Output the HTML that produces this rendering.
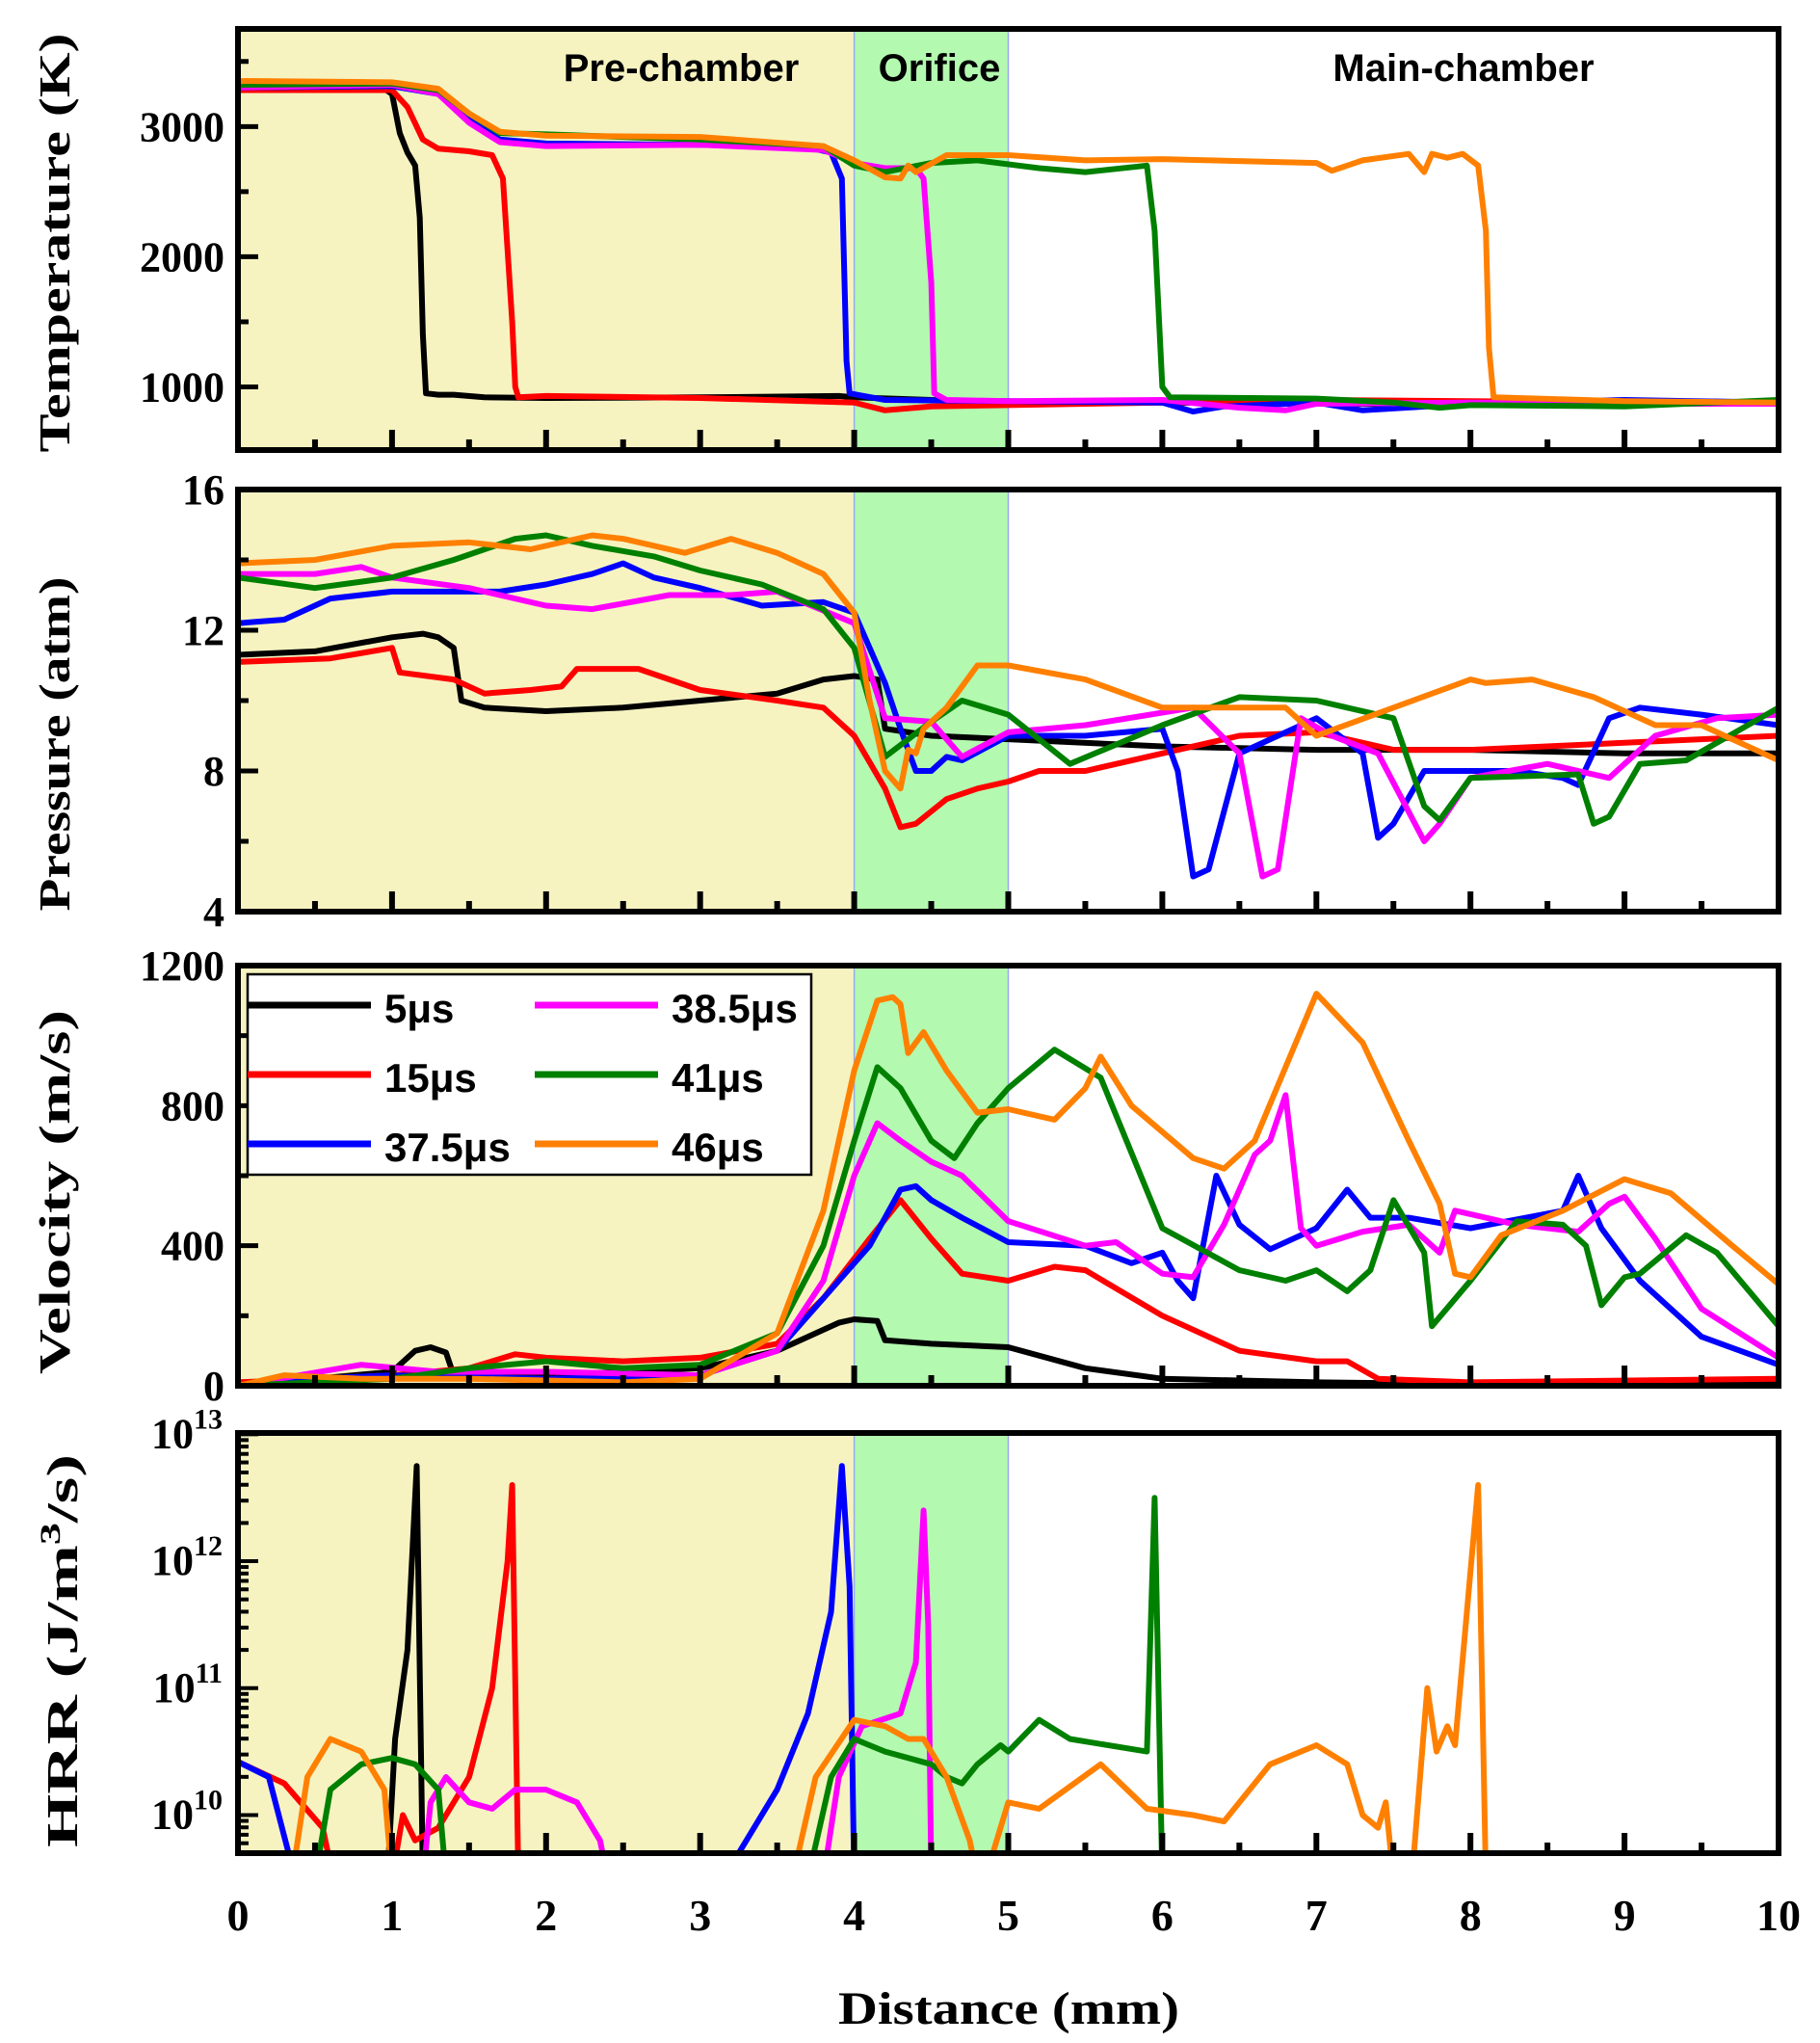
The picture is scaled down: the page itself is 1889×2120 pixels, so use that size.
<!DOCTYPE html>
<html><head><meta charset="utf-8"><style>
html,body{margin:0;padding:0;background:#fff}
svg{display:block}
</style></head><body>
<svg id="chart" width="1889" height="2120" xmlns="http://www.w3.org/2000/svg"></svg>
<script>
// ---------- data ----------
const seriesNames = ["5μs","15μs","37.5μs","38.5μs","41μs","46μs"];
const seriesColors = ["#000000","#ff0000","#0000ff","#ff00ff","#008000","#ff8000"];

// Temperature (K)
const tempX = [
 [0,0.5,0.95,1.0,1.05,1.1,1.15,1.18,1.2,1.22,1.3,1.4,1.6,2,3,3.9,4.0,4.5,5,6,7,8,9,10],
 [0,1.0,1.1,1.2,1.3,1.5,1.65,1.72,1.78,1.8,1.82,2,3,4,4.2,4.5,5,6,7,8,9,10],
 [0,1,1.3,1.5,1.7,2,3,3.7,3.85,3.92,3.95,3.97,4.2,5,6,6.2,6.4,7,7.3,8,9,10],
 [0,1,1.3,1.5,1.7,2,3,3.8,4,4.2,4.4,4.45,4.5,4.52,4.6,5,6,6.5,6.8,7,8,9,10],
 [0,1,1.3,1.5,1.7,2,3,3.8,4,4.2,4.5,4.8,5.2,5.5,5.9,5.95,6.0,6.05,7,7.5,7.8,8,9,10],
 [0,1,1.3,1.5,1.7,2,3,3.8,4,4.2,4.3,4.35,4.4,4.6,5,5.5,6,7,7.1,7.3,7.6,7.7,7.75,7.85,7.95,8.05,8.1,8.12,8.15,9,10]
];
const tempY = [
 [3290,3290,3290,3250,2950,2800,2700,2300,1400,950,940,940,920,915,920,930,920,900,880,880,870,870,875,870],
 [3280,3280,3150,2900,2830,2810,2780,2600,1500,1000,920,930,915,880,820,850,860,880,900,890,880,870],
 [3300,3310,3250,3050,2900,2870,2860,2840,2800,2600,1200,950,900,890,880,810,850,880,820,870,900,880],
 [3300,3320,3250,3030,2880,2850,2860,2820,2720,2680,2680,2600,1800,950,900,890,900,840,820,870,880,870,870],
 [3320,3330,3280,3100,2950,2940,2900,2850,2700,2650,2720,2740,2680,2650,2700,2200,1000,920,910,880,840,860,850,900],
 [3350,3340,3290,3100,2960,2930,2920,2850,2740,2610,2600,2700,2650,2780,2780,2740,2750,2720,2660,2740,2790,2650,2790,2760,2790,2700,2200,1300,920,890,880]
];

// Pressure (atm)
const presX = [
 [0,0.5,1,1.2,1.3,1.4,1.45,1.6,2,2.5,3,3.5,3.8,4.0,4.15,4.2,4.5,5,6,7,8,9,10],
 [0,0.6,1.0,1.05,1.4,1.6,1.9,2.1,2.2,2.6,3.0,3.5,3.8,4.0,4.2,4.3,4.4,4.6,4.8,5.0,5.2,5.5,6.0,6.5,7,7.5,8,9,10],
 [0,0.3,0.6,1,1.7,2,2.3,2.5,2.7,3,3.4,3.8,4,4.2,4.3,4.4,4.5,4.6,4.7,5,5.5,6.0,6.1,6.2,6.3,6.5,7,7.3,7.4,7.5,7.7,8,8.3,8.6,8.7,8.9,9.1,9.5,10],
 [0,0.5,0.8,1,1.5,2.0,2.3,2.8,3.2,3.5,4.0,4.2,4.5,4.7,5,5.5,6.2,6.5,6.65,6.75,6.9,7.1,7.4,7.7,7.8,8,8.5,8.9,9.2,9.6,10],
 [0,0.5,1.0,1.4,1.8,2.0,2.3,2.7,3,3.4,3.8,4.0,4.2,4.5,4.7,5,5.4,6,6.5,7,7.5,7.7,7.8,8.0,8.7,8.8,8.9,9.1,9.4,10],
 [0,0.5,1.0,1.5,1.9,2.3,2.5,2.9,3.2,3.5,3.8,4.0,4.1,4.2,4.3,4.35,4.4,4.45,4.6,4.8,5,5.5,6,6.3,6.8,7,7.5,8.0,8.1,8.4,8.8,9.2,9.5,10]
];
const presY = [
 [11.3,11.4,11.8,11.9,11.8,11.5,10.0,9.8,9.7,9.8,10.0,10.2,10.6,10.7,10.6,9.2,9.0,8.9,8.7,8.6,8.6,8.5,8.5],
 [11.1,11.2,11.5,10.8,10.6,10.2,10.3,10.4,10.9,10.9,10.3,10.0,9.8,9.0,7.5,6.4,6.5,7.2,7.5,7.7,8.0,8.0,8.5,9.0,9.1,8.6,8.6,8.8,9.0],
 [12.2,12.3,12.9,13.1,13.1,13.3,13.6,13.9,13.5,13.2,12.7,12.8,12.5,10.5,9.2,8.0,8.0,8.4,8.3,9.0,9.0,9.2,8.0,5.0,5.2,8.5,9.5,8.5,6.1,6.5,8.0,8.0,8.0,7.8,7.6,9.5,9.8,9.6,9.3],
 [13.6,13.6,13.8,13.5,13.2,12.7,12.6,13.0,13.0,13.1,12.2,9.5,9.4,8.4,9.1,9.3,9.8,8.5,5.0,5.2,9.5,9.0,8.5,6.0,6.5,7.8,8.2,7.8,9.0,9.5,9.6],
 [13.5,13.2,13.5,14.0,14.6,14.7,14.4,14.1,13.7,13.3,12.6,11.5,8.4,9.4,10.0,9.6,8.2,9.3,10.1,10.0,9.5,7.0,6.6,7.8,7.9,6.5,6.7,8.2,8.3,9.8],
 [13.9,14.0,14.4,14.5,14.3,14.7,14.6,14.2,14.6,14.2,13.6,12.5,10.0,8.0,7.5,8.6,8.5,9.2,9.8,11.0,11.0,10.6,9.8,9.8,9.8,9.0,9.8,10.6,10.5,10.6,10.1,9.3,9.3,8.3]
];

// Velocity (m/s)
const velX = [
 [0,1.0,1.15,1.25,1.35,1.4,2,3,3.5,3.9,4.0,4.15,4.2,4.5,5,5.5,6,7,8,10],
 [0,1,1.5,1.8,2,2.5,3,3.5,3.8,4.1,4.3,4.5,4.7,5,5.3,5.5,6,6.5,7,7.2,7.4,8,10],
 [0,0.5,1,2,3,3.5,3.8,4.1,4.3,4.4,4.5,4.7,5,5.5,5.8,6.0,6.1,6.2,6.35,6.5,6.7,7.0,7.2,7.35,7.6,8,8.6,8.7,8.85,9.1,9.5,10],
 [0,0.8,1.3,2,3,3.5,3.8,4.0,4.15,4.3,4.5,4.7,5,5.5,5.7,6,6.2,6.4,6.6,6.7,6.8,6.9,7.0,7.3,7.6,7.8,7.9,8.3,8.7,8.9,9.0,9.2,9.5,10],
 [0,1,1.5,2,2.5,3,3.5,3.8,4.0,4.15,4.3,4.5,4.65,4.8,5,5.3,5.6,6,6.5,6.8,7.0,7.2,7.35,7.5,7.7,7.75,8,8.3,8.6,8.75,8.85,9,9.1,9.4,9.6,10],
 [0,0.3,0.8,1.5,2.5,3,3.5,3.8,4.0,4.15,4.25,4.3,4.35,4.45,4.6,4.8,5.0,5.3,5.5,5.6,5.8,6.2,6.4,6.6,7.0,7.3,7.6,7.8,7.9,8.0,8.2,8.6,9.0,9.3,9.7,10]
];
const velY = [
 [0,40,100,110,95,30,30,50,100,180,190,185,130,120,110,50,20,10,5,5],
 [10,30,50,90,80,70,80,120,250,420,530,420,320,300,340,330,200,100,70,70,20,10,20],
 [0,20,30,20,30,100,250,400,560,570,530,480,410,400,350,380,300,250,600,460,390,450,560,480,480,450,500,600,450,300,140,60],
 [0,60,40,40,30,100,300,600,750,700,640,600,470,400,410,320,310,460,660,700,830,450,400,440,460,380,500,460,440,520,540,420,220,80],
 [0,20,50,70,50,60,150,400,700,910,850,700,650,750,850,960,880,450,330,300,330,270,330,530,380,170,300,470,460,400,230,310,320,430,380,170],
 [0,30,20,20,10,20,150,500,900,1100,1110,1090,950,1010,900,780,790,760,850,940,800,650,620,700,1120,980,700,520,320,310,430,500,590,550,400,290]
];

// HRR (log10 J/m3/s); null = break
const hrrX = [
 [0.97,1.02,1.1,1.16,1.2],
 [0,0.3,0.55,0.62,null,1.0,1.07,1.15,1.3,1.5,1.65,1.75,1.78,1.82],
 [0,0.2,0.35,0.38,null,3.15,3.3,3.5,3.7,3.85,3.92,3.97,4.0],
 [1.2,1.25,1.35,1.5,1.65,1.8,2.0,2.2,2.35,2.4,null,3.8,3.9,4.05,4.3,4.4,4.45,4.48,4.5],
 [0.5,0.6,0.8,1.0,1.15,1.3,1.35,null,3.7,3.85,4.0,4.2,4.5,4.6,4.7,4.8,4.95,5.0,5.2,5.4,5.9,5.95,6.0],
 [0.35,0.45,0.6,0.8,0.95,1.0,null,3.6,3.75,4.0,4.2,4.35,4.45,4.6,4.75,4.8,null,4.85,5.0,5.2,5.6,5.9,6.2,6.4,6.7,7.0,7.2,7.3,7.4,7.45,7.5,null,7.62,7.72,7.78,7.85,7.9,8.05,8.1]
];
const hrrY = [
 [9.5,10.6,11.3,12.75,9.5],
 [10.42,10.25,9.9,9.5,null,9.5,10.0,9.8,9.9,10.3,11.0,12.0,12.6,9.5],
 [10.42,10.3,9.6,9.5,null,9.5,9.8,10.2,10.8,11.6,12.75,11.8,9.5],
 [9.5,10.1,10.3,10.1,10.05,10.2,10.2,10.1,9.8,9.5,null,9.5,10.3,10.7,10.8,11.2,12.4,11.5,9.5],
 [9.5,10.2,10.4,10.45,10.4,10.2,9.5,null,9.5,10.3,10.6,10.5,10.4,10.3,10.25,10.4,10.55,10.5,10.75,10.6,10.5,12.5,9.5],
 [9.5,10.3,10.6,10.5,10.2,9.5,null,9.5,10.3,10.75,10.7,10.6,10.6,10.3,9.8,9.5,null,9.5,10.1,10.05,10.4,10.05,10.0,9.95,10.4,10.55,10.4,10.0,9.9,10.1,9.5,null,9.5,11.0,10.5,10.7,10.55,12.6,9.5]
];

const xTickLabels = ["0","1","2","3","4","5","6","7","8","9","10"];
const tempTicks = [1000,2000,3000];
const presTicks = [4,8,12,16];
const velTicks = [0,400,800,1200];
const hrrTicks = [10,11,12,13];

// ---------- layout ----------
const NS = "http://www.w3.org/2000/svg";
const svg = document.getElementById("chart");
const X0 = 247, X1 = 1846;
const xs = v => X0 + (v/10)*(X1-X0);
function mk(tag, attrs, parent){
  const e = document.createElementNS(NS, tag);
  for (const k in attrs) e.setAttribute(k, attrs[k]);
  (parent||svg).appendChild(e);
  return e;
}
const panels = [
 {name:"temperature", top:30, bot:467, min:515, max:3750, ticks:tempTicks, minor:500, xs:tempX, ys:tempY, title:"Temperature (K)", tlen:435, tcy:252, log:false},
 {name:"pressure", top:508, bot:946, min:4, max:16, ticks:presTicks, minor:2, xs:presX, ys:presY, title:"Pressure (atm)", tlen:347, tcy:772, log:false},
 {name:"velocity", top:1002, bot:1438, min:0, max:1200, ticks:velTicks, minor:200, xs:velX, ys:velY, title:"Velocity (m/s)", tlen:378, tcy:1237, log:false},
 {name:"hrr", top:1487, bot:1923, min:9.70, max:13.01, ticks:hrrTicks, minor:null, xs:hrrX, ys:hrrY, title:"HRR (J/m3/s)", tlen:408, tcy:1713, log:true}
];

panels.forEach((p, pi) => {
  const ys = v => p.bot - (v-p.min)/(p.max-p.min)*(p.bot-p.top);
  const g = mk("g", {});
  
  
  // shading
  const pre = mk("rect", {x:X0, y:p.top, width:xs(4)-X0, height:p.bot-p.top, fill:"#f6f3c1"}, g);
  
  
  const ori = mk("rect", {x:xs(4), y:p.top, width:xs(5)-xs(4), height:p.bot-p.top, fill:"#b3f9b0", stroke:"#9aa8f0", "stroke-width":1.5}, g);
  
  
  // clip
  const cp = mk("clipPath", {id:"clip"+pi}, g);
  mk("rect", {x:X0, y:p.top, width:X1-X0, height:p.bot-p.top}, cp);
  // series
  const sg = mk("g", {"clip-path":"url(#clip"+pi+")"}, g);
  p.xs.forEach((xa, si) => {
    let d = "", pen = false;
    xa.forEach((xv, i) => {
      const yv = p.ys[si][i];
      if (xv === null || yv === null) { pen = false; return; }
      d += (pen ? "L" : "M") + xs(xv).toFixed(1) + "," + ys(yv).toFixed(1);
      pen = true;
    });
    const path = mk("path", {d:d, fill:"none", stroke:seriesColors[si], "stroke-width":6, "stroke-linejoin":"round", "stroke-linecap":"round"}, sg);
    
    
  });
  // x ticks
  for (let k = 0; k <= 20; k++) {
    const x = xs(k/2), L = k%2===0 ? 21 : 11;
    mk("line", {x1:x, x2:x, y1:p.bot, y2:p.bot-L, stroke:"#000", "stroke-width":6}, g);
  }
  // y ticks
  if (!p.log) {
    for (let v = Math.ceil(p.min/p.minor)*p.minor; v <= p.max; v += p.minor) {
      const major = p.ticks.indexOf(v) >= 0;
      mk("line", {x1:X0, x2:X0+(major?21:11), y1:ys(v), y2:ys(v), stroke:"#000", "stroke-width":5}, g);
    }
    p.ticks.forEach(v => {
      const t = mk("text", {x:X0-14, y:ys(v)+15, "text-anchor":"end", "font-family":"Liberation Serif, serif", "font-weight":"bold", "font-size":44}, g);
      t.textContent = String(v);
      
      
    });
  } else {
    for (let dcd = 9; dcd <= 13; dcd++) {
      for (let m = 1; m <= 9; m++) {
        const v = dcd + Math.log10(m);
        if (v < p.min || v > p.max) continue;
        mk("line", {x1:X0, x2:X0+(m===1?21:11), y1:ys(v), y2:ys(v), stroke:"#000", "stroke-width":4}, g);
      }
    }
    p.ticks.forEach(v => {
      const t = mk("text", {x:X0-16, y:ys(v)+14, "text-anchor":"end", "font-family":"Liberation Serif, serif", "font-weight":"bold", "font-size":44}, g);
      
      
      const a = mk("tspan", {}, t); a.textContent = "10";
      const b = mk("tspan", {dy:-20, "font-size":30}, t); b.textContent = String(v);
    });
  }
  // frame
  const fr = mk("rect", {x:X0, y:p.top, width:X1-X0, height:p.bot-p.top, fill:"none", stroke:"#000", "stroke-width":6}, g);
  
  
  // title
  const tt = mk("text", {transform:"translate(" + (p.log?80:72) + "," + p.tcy + ") rotate(-90)", "text-anchor":"middle", "font-family":"Liberation Serif, serif", "font-weight":"bold", "font-size":46, textLength:p.tlen, lengthAdjust:"spacingAndGlyphs"}, g);
  
  
  if (p.log) {
    const a = mk("tspan", {}, tt); a.textContent = "HRR (J/m";
    const b = mk("tspan", {dy:-18, "font-size":30}, tt); b.textContent = "3";
    const c = mk("tspan", {dy:18}, tt); c.textContent = "/s)";
  } else tt.textContent = p.title;
});

// region labels
[["Pre-chamber",707,"region-label-pre-chamber"],["Orifice",975,"region-label-orifice"],["Main-chamber",1519,"region-label-main-chamber"]].forEach(r => {
  const t = mk("text", {x:r[1], y:84, "text-anchor":"middle", "font-family":"Liberation Sans, sans-serif", "font-weight":"bold", "font-size":40});
  t.textContent = r[0];
  
  
});

// x tick labels
xTickLabels.forEach((lab, i) => {
  const t = mk("text", {x:xs(i), y:2003, "text-anchor":"middle", "font-family":"Liberation Serif, serif", "font-weight":"bold", "font-size":46});
  t.textContent = lab;
  
  
});
const xt = mk("text", {x:1047, y:2100, "text-anchor":"middle", "font-family":"Liberation Serif, serif", "font-weight":"bold", "font-size":48, textLength:354, lengthAdjust:"spacingAndGlyphs"});
xt.textContent = "Distance (mm)";



// legend
const lg = mk("g", {});


mk("rect", {x:257, y:1011, width:585, height:208, fill:"#fff", stroke:"#000", "stroke-width":2.5}, lg);
const rowsY = [1043,1115,1187];
seriesNames.forEach((n, i) => {
  const col = Math.floor(i/3), row = i%3;
  const lx = col===0 ? 257 : 555;
  const tx = col===0 ? 399 : 697;
  const ent = mk("g", {}, lg);
  
  
  mk("line", {x1:lx, x2:lx+128, y1:rowsY[row], y2:rowsY[row], stroke:seriesColors[i], "stroke-width":7}, ent);
  const t = mk("text", {x:tx, y:rowsY[row]+18, "font-family":"Liberation Sans, sans-serif", "font-weight":"bold", "font-size":42}, ent);
  t.textContent = n;
});
</script>
</body></html>
